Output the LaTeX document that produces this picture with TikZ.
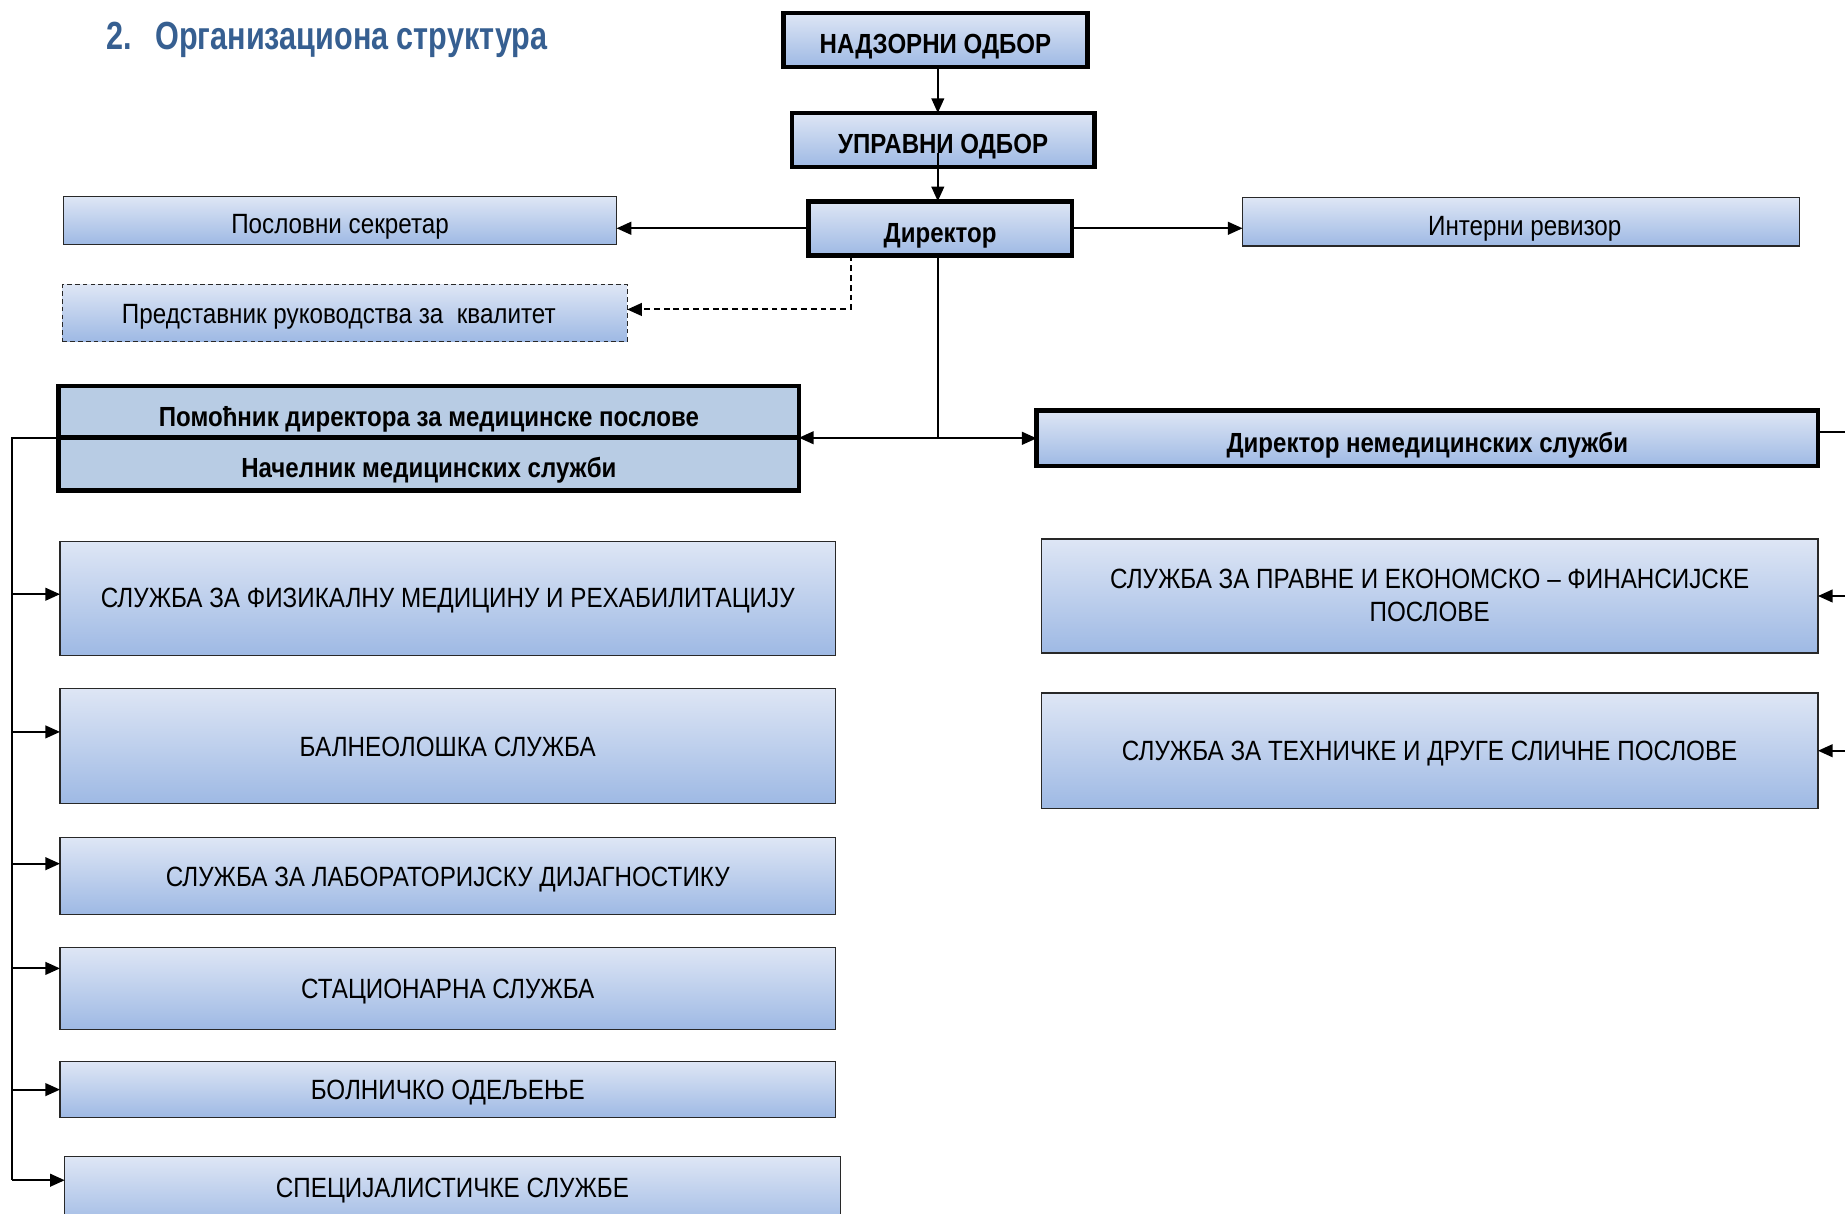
\documentclass[tikz,border=0pt]{standalone}
\usepackage{fontspec}
\setmainfont{Liberation Sans}[FakeStretch=0.87]
\newfontfamily\ttlfont{Liberation Sans}[FakeStretch=0.78]
\usetikzlibrary{arrows.meta,calc}
\definecolor{gtop}{RGB}{222,230,245}
\definecolor{gbot}{RGB}{158,185,228}
\definecolor{solidbl}{RGB}{184,204,228}
\definecolor{ttlc}{RGB}{54,95,145}
\definecolor{thinb}{RGB}{40,40,40}
\newcommand\bx[9]{%
  \node[#6, minimum width={(#4-#2)*0.6pt}, minimum height={(#5-#3)*0.6pt}] (#1) at ({(#2+#4)/2},{(#3+#5)/2}) {};
  \node[#7] (#1t) at ({(#2+#4)/2},#8) {#9};}
\begin{document}
\begin{tikzpicture}[x=0.6pt,y=-0.6pt,
  tbox/.style={draw=black, line width=2.4pt, top color=gtop, bottom color=gbot, inner sep=0pt, outer sep=0pt},
  nbox/.style={draw=thinb, line width=0.6pt, top color=gtop, bottom color=gbot, inner sep=0pt, outer sep=0pt},
  dbox/.style={nbox, dash pattern=on 2.4pt off 1.6pt},
  sbox/.style={draw=black, line width=2.4pt, fill=solidbl, inner sep=0pt, outer sep=0pt},
  svc/.style={font=\fontsize{14.2}{17}\selectfont, text height=10.2pt, text depth=0pt, inner sep=0pt},
  reg/.style={font=\fontsize{14.2}{17}\selectfont, text height=10.2pt, text depth=0pt, inner sep=0pt},
  bld/.style={font=\bfseries\fontsize{14.1}{17}\selectfont, text height=10.1pt, text depth=0pt, inner sep=0pt},
  bldm/.style={font=\bfseries\fontsize{14.1}{17}\selectfont, text height=10.1pt, text depth=0pt, inner sep=0pt},
  conn/.style={draw=black, line width=1pt},
  arr/.style={conn, -{Triangle[length=7.5pt,width=6.5pt]}}
]
\fill[white] (0,0) rectangle (1568,1031);
\useasboundingbox (0,0) rectangle (1568,1031);
\node[anchor=west, inner sep=0pt, text=ttlc, font=\ttlfont\bfseries\fontsize{20}{24}\selectfont, text height=14.3pt, text depth=0pt] (title) at (90,30) {2.\hspace{12pt}Организациона структура};
\bx{nad}{666}{11}{924}{57}{tbox}{bld}{37}{НАДЗОРНИ ОДБОР}
\bx{upr}{673}{96}{930}{142}{tbox}{bld}{122}{УПРАВНИ ОДБОР}
\bx{dir}{687}{171}{911}{217}{tbox}{bld}{198}{Директор}
\bx{sek}{54}{167}{524}{208}{nbox}{reg}{190}{Пословни секретар}
\bx{rev}{1056}{168}{1529}{209}{nbox}{reg, xshift=2pt}{192}{Интерни ревизор}
\bx{pred}{53}{242}{533}{290}{dbox}{reg, xshift=-3pt}{266}{Представник руководства за\ \ квалитет}
\bx{pom}{50}{328}{679}{372}{sbox}{bldm}{354}{Помоћник директора за медицинске послове}
\bx{nac}{50}{372}{679}{417}{sbox}{bldm}{397}{Начелник медицинских служби}
\bx{dnm}{881}{349}{1545}{396}{tbox}{bld}{376}{Директор немедицинских служби}
\bx{s1}{51}{460}{710}{557}{nbox}{svc}{508}{СЛУЖБА ЗА ФИЗИКАЛНУ МЕДИЦИНУ И РЕХАБИЛИТАЦИЈУ}
\bx{s2}{51}{585}{710}{683}{nbox}{svc}{634}{БАЛНЕОЛОШКА СЛУЖБА}
\bx{s3}{51}{712}{710}{777}{nbox}{svc}{745}{СЛУЖБА ЗА ЛАБОРАТОРИЈСКУ ДИЈАГНОСТИКУ}
\bx{s4}{51}{805}{710}{875}{nbox}{svc}{840}{СТАЦИОНАРНА СЛУЖБА}
\bx{s5}{51}{902}{710}{950}{nbox}{svc}{926}{БОЛНИЧКО ОДЕЉЕЊЕ}
\bx{s6}{55}{983}{714}{1045}{nbox}{svc}{1009}{СПЕЦИЈАЛИСТИЧКЕ СЛУЖБЕ}
\bx{r1}{885}{458}{1545}{555}{nbox}{svc}{492}{СЛУЖБА ЗА ПРАВНЕ И ЕКОНОМСКО – ФИНАНСИЈСКЕ}
\node[svc] (r1b) at (1215,520) {ПОСЛОВЕ};
\bx{r2}{885}{589}{1545}{687}{nbox}{svc}{638}{СЛУЖБА ЗА ТЕХНИЧКЕ И ДРУГЕ СЛИЧНЕ ПОСЛОВЕ}
% connectors
\coordinate (sp) at (797,0);
\coordinate (dq) at (723,263);
\coordinate (lb) at (10,0);
\coordinate (rb) at (1580,0);
\draw[arr] (nad.south -| sp) -- (upr.north -| sp);
\draw[arr] ($(upr.south -| sp)+(0,-12)$) -- (dir.north -| sp);
\draw[arr] (dir.west) -- (dir.west -| sek.east);
\draw[arr] (dir.east) -- (dir.east -| rev.west);
\draw[conn, dash pattern=on 3pt off 2pt, -{Triangle[length=7.5pt,width=6.5pt]}] (dir.south -| dq) -- (dq) -- (dq -| pred.east);
\draw[arr] (dir.south -| sp) |- (nac.north east);
\draw[arr] (dir.south -| sp) |- (dnm.west);
\draw[conn] ($(dnm.east)+(0,-5)$) -- ($(dnm.east -| rb)+(0,-5)$);
\draw[arr] (rb |- r1.east) -- (r1.east);
\draw[arr] (rb |- r2.east) -- (r2.east);
\draw[conn] (nac.north west) -| ($(lb |- s6.north west)+(0,20)$);
\draw[arr] ($(lb |- s1.west)+(0,-3.5)$) -- ($(s1.west)+(0,-3.5)$);
\draw[arr] ($(lb |- s2.west)+(0,-12)$) -- ($(s2.west)+(0,-12)$);
\draw[arr] ($(lb |- s3.west)+(0,-10.5)$) -- ($(s3.west)+(0,-10.5)$);
\draw[arr] ($(lb |- s4.west)+(0,-17)$) -- ($(s4.west)+(0,-17)$);
\draw[arr] (lb |- s5.west) -- (s5.west);
\draw[arr] ($(lb |- s6.north west)+(0,20)$) -- ($(s6.north west)+(0,20)$);
\end{tikzpicture}
\end{document}
